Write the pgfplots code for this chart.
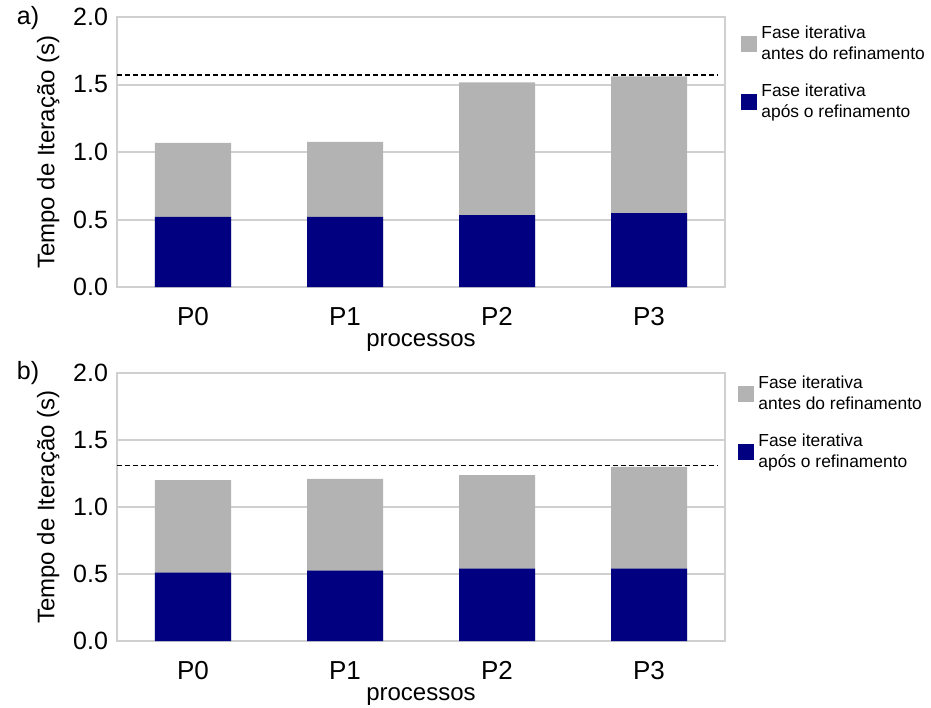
\documentclass[border=0pt]{standalone}
\usepackage{fontspec}
\setmainfont{Liberation Sans}
\usepackage{pgfplots}
\pgfplotsset{compat=1.18}

\definecolor{barGray}{RGB}{179,179,179}
\definecolor{barNavy}{RGB}{0,0,128}
\definecolor{frameGray}{RGB}{208,208,208}

\pgfplotsset{
  painel/.style={
    scale only axis,
    width=304pt,
    xmin=-0.5, xmax=3.5,
    ymin=0, ymax=2,
    xtick={0,1,2,3},
    xticklabels={P0,P1,P2,P3},
    ytick={0,0.5,1,1.5,2},
    major tick length=0pt,
    ymajorgrids,
    grid style={frameGray, line width=1pt},
    axis line style={frameGray, line width=1.2pt},
    /pgf/number format/assume math mode=true,
    yticklabel style={/pgf/number format/fixed,
      /pgf/number format/fixed zerofill,
      /pgf/number format/precision=1,
      font=\fontsize{12.5}{14}\selectfont, xshift=-1pt},
    xticklabel style={font=\fontsize{13}{15}\selectfont, anchor=base, yshift=-19pt},
    xlabel={processos},
    xlabel style={font=\fontsize{12}{14}\selectfont, yshift=2.5pt},
    ylabel={Tempo de Iteração (s)},
    ylabel style={font=\fontsize{12}{14}\selectfont, yshift=0pt},
    ybar, bar width=0.5, bar shift=0pt,
    legend style={at={(1,1)}, anchor=north west,
      draw=none, fill=none,
      font=\fontsize{8.7}{10.5}\selectfont,
      nodes={align=left}, row sep=7pt},
    legend cell align=left,
  },
  barra/.style={draw=none, fill=#1,
    legend image code/.code={\fill[#1] (0pt,-4pt) rectangle (8pt,4pt);}},
  limite/.style={sharp plot, black, dashed, line width=0.8pt,
    dash pattern=on 2.5pt off 1.5pt, forget plot},
}

\begin{document}
\begin{tikzpicture}
% painel a)
\begin{axis}[painel, height=135pt, legend style={xshift=5pt, yshift=0pt}]
\addplot[barra=barGray] coordinates {(0,1.067) (1,1.075) (2,1.516) (3,1.56)};
\addplot[barra=barNavy] coordinates {(0,0.52) (1,0.52) (2,0.533) (3,0.548)};
\addplot[limite] coordinates {(-0.5,1.57) (3.45,1.57)};
\legend{Fase iterativa\\antes do refinamento, Fase iterativa\\após o refinamento}
\end{axis}
\node[font=\fontsize{12.5}{14}\selectfont] at (-44.5pt,134.5pt) {a)};

% painel b)
\begin{axis}[painel, height=134pt, at={(0,-177pt)}, legend style={xshift=3.5pt, yshift=3pt}]
\addplot[barra=barGray] coordinates {(0,1.20) (1,1.21) (2,1.237) (3,1.30)};
\addplot[barra=barNavy] coordinates {(0,0.51) (1,0.525) (2,0.54) (3,0.54)};
\addplot[limite] coordinates {(-0.5,1.31) (3.45,1.31)};
\legend{Fase iterativa\\antes do refinamento, Fase iterativa\\após o refinamento}
\end{axis}
\node[font=\fontsize{12.5}{14}\selectfont] at (-44.5pt,-43pt) {b)};

\pgfresetboundingbox
\path[use as bounding box] (-58.5pt,143.5pt) rectangle (407pt,-210pt);
\end{tikzpicture}
\end{document}
